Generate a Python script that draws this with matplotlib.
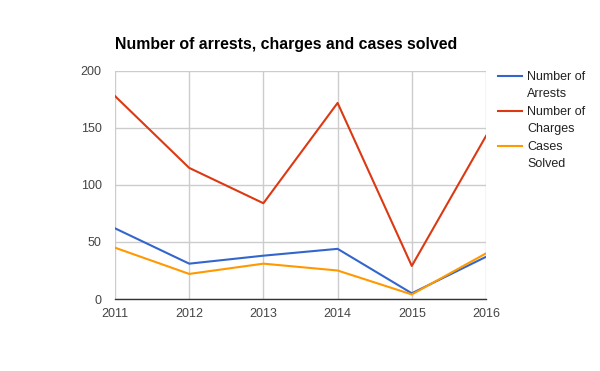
import matplotlib.pyplot as plt
from matplotlib.lines import Line2D

years = [2011, 2012, 2013, 2014, 2015, 2016]
arrests = [62, 31, 38, 44, 5, 37]
charges = [178, 115, 84, 172, 29, 143]
solved = [45, 22, 31, 25, 4, 40]

series = [
    ('Number of\nArrests', arrests, '#3366cc'),
    ('Number of\nCharges', charges, '#dc3912'),
    ('Cases\nSolved', solved, '#ff9900'),
]

plt.rcParams['font.family'] = ['Liberation Sans', 'DejaVu Sans']

W, H = 600, 371
fig = plt.figure(figsize=(W / 100, H / 100), dpi=100)
ax = fig.add_axes([115 / W, 72 / H, 371 / W, 228 / H])

for label, vals, col in series:
    ax.plot(years, vals, color=col, lw=1.5)

ax.set_xlim(2011, 2016)
ax.set_ylim(0, 200)
ax.set_yticks([0, 50, 100, 150, 200])
ax.set_xticks(years)
ax.grid(True, color='#cccccc', lw=1)
ax.set_axisbelow(True)
ax.tick_params(axis='y', length=0, labelsize=9, colors='#444444', pad=9.5)
ax.tick_params(axis='x', length=0, labelsize=9, colors='#444444', pad=6.5)
for s in ['top', 'right', 'left']:
    ax.spines[s].set_visible(False)
ax.spines['bottom'].set_color('#333333')
ax.spines['bottom'].set_linewidth(1)
ax.spines['bottom'].set_zorder(5)

fig.text(115 / W, 1 - 49 / H, 'Number of arrests, charges and cases solved',
         fontsize=11.4, fontweight='bold', va='baseline', ha='left')

# legend drawn by hand so the key sits beside the first text line
for i, (label, vals, col) in enumerate(series):
    y = 76 + i * 35
    fig.add_artist(Line2D([498 / W, 522 / W], [1 - y / H, 1 - y / H],
                          color=col, lw=1.5, transform=fig.transFigure))
    fig.text(527 / W, 1 - (y - 5) / H, label, fontsize=9, color='#222222',
             va='top', ha='left', linespacing=1.55)

fig.savefig('out.png', dpi=100)
